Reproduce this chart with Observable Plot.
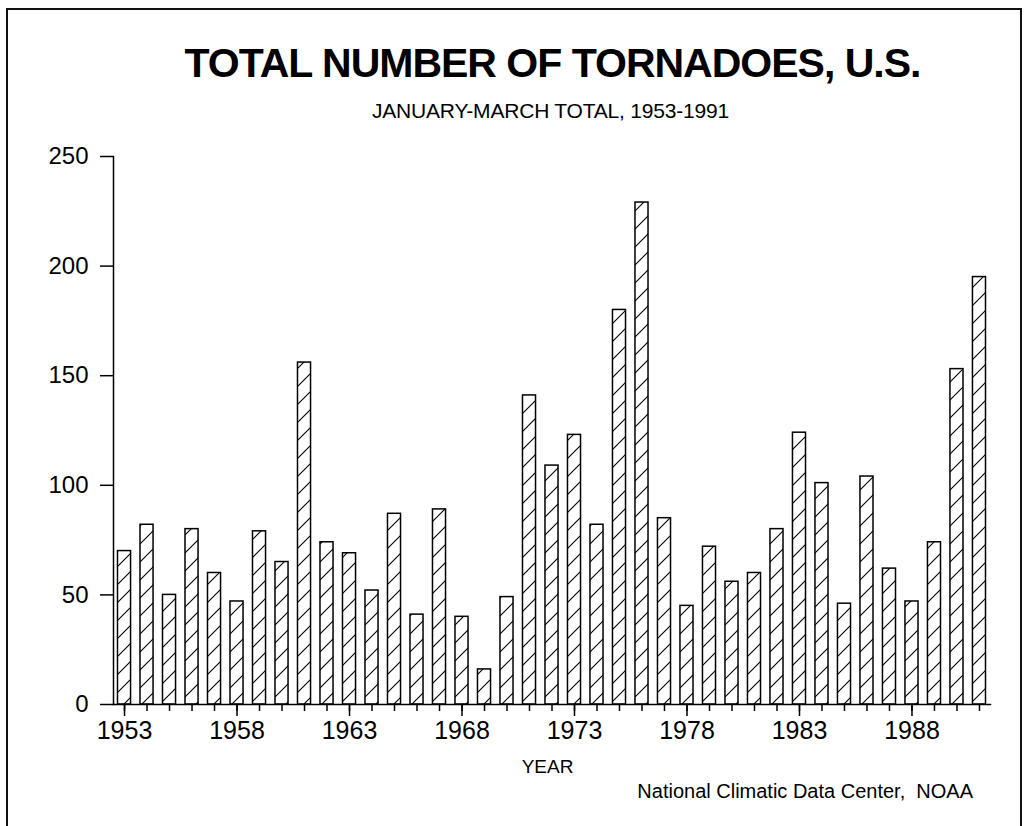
<!DOCTYPE html>
<html>
<head>
<meta charset="utf-8">
<script src="https://cdn.jsdelivr.net/npm/d3@7"></script>
<script src="https://cdn.jsdelivr.net/npm/@observablehq/plot@0.6"></script>
<style>
  html, body { margin: 0; padding: 0; background: #fff; }
  #wrap { position: relative; width: 1025px; height: 826px; overflow: hidden; font-family: "Liberation Sans", Arial, Helvetica, sans-serif; color: #000; }
  #border { position: absolute; left: 6px; top: 8px; width: 1012px; height: 900px; border: 2.5px solid #111; }
  .t { position: absolute; left: 0; width: 1025px; text-align: center; white-space: nowrap; }
  #title { top: 40px; left: 40px; font-weight: bold; font-size: 41px; letter-spacing: -1px; }
  #subtitle { top: 99px; left: 38px; font-size: 21px; letter-spacing: -0.2px; }
  #year { top: 756px; left: 35px; font-size: 19px; }
  #source { position: absolute; top: 780px; right: 52px; font-size: 20px; white-space: pre; }
  #chart { position: absolute; left: 0; top: 0; }
</style>
</head>
<body>
<div id="wrap">
  <div id="border"></div>
  <div id="chart"></div>
  <div class="t" id="title">TOTAL NUMBER OF TORNADOES, U.S.</div>
  <div class="t" id="subtitle">JANUARY-MARCH TOTAL, 1953-1991</div>
  <div class="t" id="year">YEAR</div>
  <div id="source">National Climatic Data Center,  NOAA</div>
</div>
<script>
const years = d3.range(1953, 1992);
const tornadoes = [70, 82, 50, 80, 60, 47, 79, 65, 156, 74,
                   69, 52, 87, 41, 89, 40, 16, 49, 141, 109,
                   123, 82, 180, 229, 85, 45, 72, 56, 60, 80,
                   124, 101, 46, 104, 62, 47, 74, 153, 195];
const yTicks = [0, 50, 100, 150, 200, 250];
const labeledYears = [1953, 1958, 1963, 1968, 1973, 1978, 1983, 1988];

const data = years.map((y, i) => ({year: y, count: tornadoes[i]}));

const plot = Plot.plot({
  width: 1025,
  height: 826,
  marginLeft: 113,
  marginRight: 35,
  marginTop: 156,
  marginBottom: 122,
  style: {fontFamily: '"Liberation Sans", Arial, Helvetica, sans-serif', color: "#000", background: "transparent", overflow: "visible"},
  x: {type: "band", domain: years, paddingInner: 0.42, paddingOuter: 0.2, round: false, axis: null},
  y: {domain: [0, 250], axis: null},
  marks: [
    Plot.barY(data, {x: "year", y: "count", fill: "url(#hatch)", stroke: "#000", strokeWidth: 1.5}),
    Plot.axisY({ticks: yTicks, tickSize: 13, tickPadding: 12, fontSize: 24, label: null, stroke: "#000", strokeWidth: 1.5, tickFormat: d => String(d)}),
    Plot.axisX({ticks: years, tickSize: 7, tickFormat: () => "", label: null, strokeWidth: 1.5}),
    Plot.axisX({ticks: labeledYears, tickSize: 12, tickPadding: 5, fontSize: 25, label: null, strokeWidth: 1.5, tickFormat: d => String(d)}),
    Plot.frame({anchor: "left", stroke: "#000", strokeWidth: 1.5}),
    Plot.frame({anchor: "bottom", stroke: "#000", strokeWidth: 1.5})
  ]
});

const svg = d3.select(plot);
const defs = svg.insert("defs", ":first-child");
const pat = defs.append("pattern")
  .attr("id", "hatch")
  .attr("patternUnits", "userSpaceOnUse")
  .attr("width", 18).attr("height", 18);
pat.append("rect").attr("width", 18).attr("height", 18).attr("fill", "#fff");
pat.append("path")
  .attr("d", "M0,18 L18,0 M-2,2 L2,-2 M16,20 L20,16")
  .attr("stroke", "#000").attr("stroke-width", 1.1);

document.getElementById("chart").appendChild(plot);
</script>
</body>
</html>
